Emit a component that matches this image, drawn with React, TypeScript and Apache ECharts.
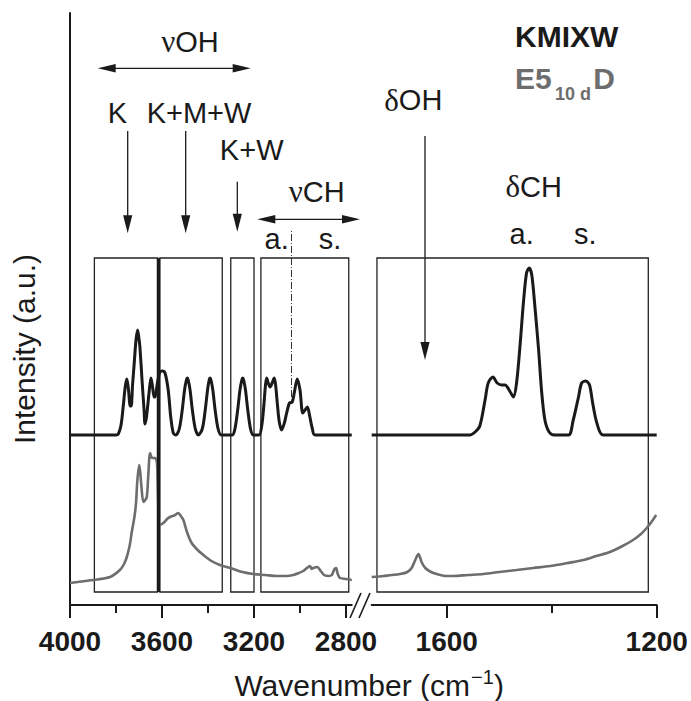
import React, { useEffect, useRef } from "react";
import * as echarts from "echarts";

// KMIXW (black) spectrum, left window: [wavenumber, intensity]
const leftBlack = [
  [4000, 170], [3800, 170], [3790, 171], [3778, 180], [3768, 200], [3760, 218], [3753, 226], [3746, 216],
  [3738, 199], [3734, 199], [3728, 220], [3722, 238], [3713, 265], [3706, 275], [3700, 266], [3696, 258],
  [3686, 222], [3678, 195], [3674, 181], [3668, 187], [3664, 195], [3655, 215], [3648, 227], [3641, 218],
  [3634, 208], [3630, 208], [3620, 222], [3609, 233], [3598, 234], [3587, 232], [3573, 215], [3562, 188],
  [3551, 172], [3540, 170], [3525, 176], [3512, 195], [3502, 215], [3494, 225], [3490, 227], [3486, 225],
  [3478, 215], [3468, 195], [3455, 176], [3442, 170], [3425, 176], [3412, 195], [3402, 215], [3395, 225],
  [3391, 227], [3387, 225], [3379, 215], [3369, 195], [3356, 176], [3342, 170], [3295, 170], [3283, 176],
  [3271, 195], [3261, 215], [3253, 225], [3249, 227], [3245, 225], [3237, 215], [3227, 195], [3215, 176],
  [3203, 170], [3178, 170], [3166, 180], [3157, 200], [3150, 220], [3145, 227], [3138, 222], [3130, 218],
  [3121, 222], [3112, 227], [3106, 220], [3098, 200], [3090, 183], [3080, 175], [3068, 182], [3058, 192],
  [3046, 202], [3034, 203], [3025, 212], [3012, 226], [3000, 215], [2988, 192], [2978, 195], [2968, 198],
  [2957, 188], [2947, 177], [2935, 170], [2775, 170],
];

// E5 10 d D (grey) spectrum, left window
const leftGrey = [
  [4000, 22], [3900, 25], [3826, 28], [3783, 35], [3765, 41], [3753, 48], [3740, 60], [3732, 72],
  [3720, 88], [3713, 102], [3707, 125], [3699, 140], [3694, 131], [3690, 120], [3681, 103], [3673, 105],
  [3666, 108], [3660, 128], [3652, 152], [3646, 148], [3640, 147], [3630, 147], [3622, 142], [3616, 100],
  [3612, 80], [3594, 82], [3578, 86], [3565, 88], [3543, 90], [3529, 92], [3518, 89], [3507, 85],
  [3490, 72], [3471, 62], [3445, 55], [3420, 50], [3385, 44], [3348, 40], [3290, 36], [3250, 33],
  [3203, 31], [3150, 30], [3101, 29], [3060, 29], [3029, 30], [3005, 32], [2986, 34], [2970, 37],
  [2957, 39], [2949, 36], [2942, 37], [2925, 38], [2910, 34], [2895, 30], [2875, 29], [2862, 30],
  [2850, 36], [2843, 37], [2836, 31], [2826, 27], [2800, 26], [2775, 25],
];

// KMIXW (black) spectrum, right window
const rightBlack = [
  [1743, 170], [1556, 170], [1546, 173], [1537, 179], [1527, 205], [1521, 222], [1512, 228], [1504, 222],
  [1495, 220], [1489, 220], [1479, 213], [1473, 208], [1467, 222], [1460, 262], [1454, 302], [1448, 332],
  [1443, 337], [1438, 330], [1432, 298], [1425, 255], [1419, 212], [1413, 185], [1405, 173], [1395, 170],
  [1368, 170], [1359, 185], [1349, 208], [1343, 222], [1335, 224], [1328, 220], [1322, 202], [1314, 182],
  [1302, 170], [1200, 170],
];

// E5 10 d D (grey) spectrum, right window
const rightGrey = [
  [1743, 28], [1720, 29], [1689, 31], [1675, 33], [1667, 37], [1660, 45], [1654, 51], [1648, 43],
  [1641, 37], [1630, 33], [1619, 31], [1600, 29], [1587, 29], [1560, 30], [1530, 31], [1500, 33],
  [1467, 35], [1435, 37], [1403, 39], [1370, 42], [1340, 45], [1315, 49], [1289, 53], [1265, 59],
  [1245, 65], [1230, 71], [1219, 77], [1210, 83], [1201, 90],
];

const leftRange = [2775, 4000];
const rightRange = [1200, 1743];
const leftTicks = [4000, 3600, 3200, 2800];
const leftMinorTicks = [3800, 3400, 3000];
const rightTicks = [1600, 1200];
const rightMinorTicks = [1400];
const leftBoxes = [[3894, 3620], [3609, 3338], [3301, 3200], [3170, 2788]];
const rightBoxes = [[1733, 1216]];
const boxSpan = [13, 347];
const thickLineAt = 3616;
const dashLine = [3039, 208, 375];
const yMax = 592;

const FONT = "'Liberation Sans', Arial, Helvetica, sans-serif";
const SERIF = "'Liberation Serif', 'DejaVu Serif', serif";
const BLACK = "#1a1a1a";
const GREY = "#6d6d6d";

function txt(text: string, x: number, y: number, size: number, extra: any = {}) {
  return {
    type: "text",
    x,
    y,
    silent: true,
    style: {
      text,
      fontSize: size,
      fontFamily: FONT,
      fill: BLACK,
      align: "center",
      verticalAlign: "middle",
      ...extra,
    },
  };
}

function downArrow(x: number, y0: number, tip: number) {
  return [
    { type: "line", silent: true, shape: { x1: x, y1: y0, x2: x, y2: tip - 12 }, style: { stroke: BLACK, lineWidth: 1.3 } },
    { type: "polygon", silent: true, shape: { points: [[x - 4.6, tip - 18], [x + 4.6, tip - 18], [x, tip]] }, style: { fill: BLACK } },
  ];
}

function hArrow(x0: number, x1: number, y: number) {
  return [
    { type: "line", silent: true, shape: { x1: x0 + 12, y1: y, x2: x1 - 12, y2: y }, style: { stroke: BLACK, lineWidth: 1.3 } },
    { type: "polygon", silent: true, shape: { points: [[x0, y], [x0 + 18, y - 4.3], [x0 + 18, y + 4.3]] }, style: { fill: BLACK } },
    { type: "polygon", silent: true, shape: { points: [[x1, y], [x1 - 18, y - 4.3], [x1 - 18, y + 4.3]] }, style: { fill: BLACK } },
  ];
}

function boxAreas(boxes: number[][]) {
  return boxes.map((b) => [{ coord: [b[0], boxSpan[0]] }, { coord: [b[1], boxSpan[1]] }]);
}

export default function App() {
  const ref = useRef<HTMLDivElement>(null);

  useEffect(() => {
    const chart = echarts.init(ref.current!, null, { renderer: "svg" });

    const mainX = (gridIndex: number, range: number[], ticks: number[]) => ({
      type: "value",
      gridIndex,
      position: "bottom",
      min: range[0],
      max: range[1],
      inverse: true,
      axisLine: { show: true, lineStyle: { color: BLACK, width: 2 } },
      axisTick: { show: true, customValues: ticks, length: 13, inside: false, lineStyle: { color: BLACK, width: 2 } },
      axisLabel: {
        show: true,
        customValues: ticks,
        formatter: (v: number) => String(v),
        margin: 22,
        fontSize: 28,
        fontWeight: "bold",
        fontFamily: FONT,
        color: BLACK,
      },
      splitLine: { show: false },
    });
    const minorX = (gridIndex: number, range: number[], ticks: number[]) => ({
      type: "value",
      gridIndex,
      position: "bottom",
      offset: 0,
      min: range[0],
      max: range[1],
      inverse: true,
      axisLine: { show: false },
      axisTick: { show: true, customValues: ticks, length: 8, lineStyle: { color: BLACK, width: 2 } },
      axisLabel: { show: false, customValues: ticks },
      splitLine: { show: false },
    });

    const lineBase = { type: "line", showSymbol: false, symbol: "none", smooth: 0.3, silent: true };

    const graphics: any[] = [
      // axis break marks
      { type: "line", silent: true, shape: { x1: 350, y1: 618, x2: 361, y2: 593 }, style: { stroke: BLACK, lineWidth: 1.6 } },
      { type: "line", silent: true, shape: { x1: 359, y1: 618, x2: 370, y2: 593 }, style: { stroke: BLACK, lineWidth: 1.6 } },
      // left-window annotations
      txt("{g|ν}OH", 190, 41.7, 29, { rich: { g: { fontFamily: SERIF, fontSize: 31, fill: BLACK } } }),
      ...hArrow(97.7, 250.7, 68.3),
      txt("K", 117.3, 112.7, 29),
      txt("K+M+W", 199, 112.7, 29),
      ...downArrow(127.7, 131, 233.3),
      ...downArrow(185.7, 131, 233.3),
      txt("K+W", 251.7, 149.5, 29),
      ...downArrow(237.3, 181.7, 231.7),
      txt("{g|ν}CH", 316.7, 191.7, 29, { rich: { g: { fontFamily: SERIF, fontSize: 31, fill: BLACK } } }),
      ...hArrow(257.3, 360, 219.3),
      txt("a.", 276.7, 238.5, 29),
      txt("s.", 330, 238.5, 29),
      // right-window annotations
      txt("{g|δ}OH", 413.3, 100, 29, { rich: { g: { fontFamily: SERIF, fontSize: 31, fill: BLACK } } }),
      ...downArrow(425, 136, 360),
      txt("{g|δ}CH", 533.7, 186.7, 29, { rich: { g: { fontFamily: SERIF, fontSize: 31, fill: BLACK } } }),
      txt("a.", 521.7, 233.5, 29),
      txt("s.", 585.3, 233.5, 29),
      // sample labels
      txt("KMIXW", 515, 36, 30, { align: "left", fontWeight: "bold" }),
      txt("E5", 515, 78, 30, { align: "left", fontWeight: "bold", fill: GREY }),
      txt("10 d", 555, 94, 18, { align: "left", fontWeight: "bold", fill: GREY }),
      txt("D", 593.3, 78, 30, { align: "left", fontWeight: "bold", fill: GREY }),
      // axis titles
      txt("Wavenumber (cm", 470, 685, 30, { align: "right" }),
      txt("−1", 471, 677, 20, { align: "left" }),
      txt(")", 494, 685, 30, { align: "left" }),
      {
        type: "text",
        x: 24,
        y: 349,
        rotation: Math.PI / 2,
        silent: true,
        style: { text: "Intensity (a.u.)", fontSize: 30, fontFamily: FONT, fill: BLACK, align: "center", verticalAlign: "middle" },
      },
    ];

    const option: any = {
      animation: false,
      backgroundColor: "#ffffff",
      textStyle: { fontFamily: FONT },
      grid: [
        { left: 70, top: 13, width: 281.75, height: 592 },
        { left: 371.7, top: 13, width: 285, height: 592 },
      ],
      xAxis: [
        mainX(0, leftRange, leftTicks),
        minorX(0, leftRange, leftMinorTicks),
        mainX(1, rightRange, rightTicks),
        minorX(1, rightRange, rightMinorTicks),
      ],
      yAxis: [
        {
          type: "value",
          gridIndex: 0,
          min: 0,
          max: yMax,
          axisLine: { show: true, lineStyle: { color: BLACK, width: 2 } },
          axisTick: { show: false },
          axisLabel: { show: false },
          splitLine: { show: false },
        },
        {
          type: "value",
          gridIndex: 1,
          min: 0,
          max: yMax,
          axisLine: { show: false },
          axisTick: { show: false },
          axisLabel: { show: false },
          splitLine: { show: false },
        },
      ],
      series: [
        {
          ...lineBase,
          name: "E5 10 d D left",
          xAxisIndex: 0,
          yAxisIndex: 0,
          data: leftGrey,
          lineStyle: { color: GREY, width: 2.6 },
          z: 3,
          markArea: {
            silent: true,
            itemStyle: { color: "rgba(0,0,0,0)", borderColor: "#222", borderWidth: 1.3 },
            label: { show: false },
            data: boxAreas(leftBoxes),
          },
          markLine: {
            silent: true,
            symbol: ["none", "none"],
            label: { show: false },
            data: [
              [
                { coord: [thickLineAt, boxSpan[0]], lineStyle: { color: BLACK, width: 3, type: "solid" } },
                { coord: [thickLineAt, boxSpan[1]] },
              ],
              [
                { coord: [dashLine[0], dashLine[1]], lineStyle: { color: "#333", width: 1, type: [7, 2, 1, 2] } },
                { coord: [dashLine[0], dashLine[2]] },
              ],
            ],
          },
        },
        {
          ...lineBase,
          name: "KMIXW left",
          xAxisIndex: 0,
          yAxisIndex: 0,
          data: leftBlack,
          lineStyle: { color: BLACK, width: 3 },
          z: 4,
        },
        {
          ...lineBase,
          name: "E5 10 d D right",
          xAxisIndex: 2,
          yAxisIndex: 1,
          data: rightGrey,
          lineStyle: { color: GREY, width: 2.6 },
          z: 3,
          markArea: {
            silent: true,
            itemStyle: { color: "rgba(0,0,0,0)", borderColor: "#222", borderWidth: 1.3 },
            label: { show: false },
            data: boxAreas(rightBoxes),
          },
        },
        {
          ...lineBase,
          name: "KMIXW right",
          xAxisIndex: 2,
          yAxisIndex: 1,
          data: rightBlack,
          lineStyle: { color: BLACK, width: 3 },
          z: 4,
        },
      ],
      graphic: { elements: graphics },
    };

    chart.setOption(option);
    return () => chart.dispose();
  }, []);

  return (
    <div
      ref={ref}
      style={{ position: "fixed", left: 0, top: 0, width: 691, height: 701, background: "#ffffff" }}
    />
  );
}
